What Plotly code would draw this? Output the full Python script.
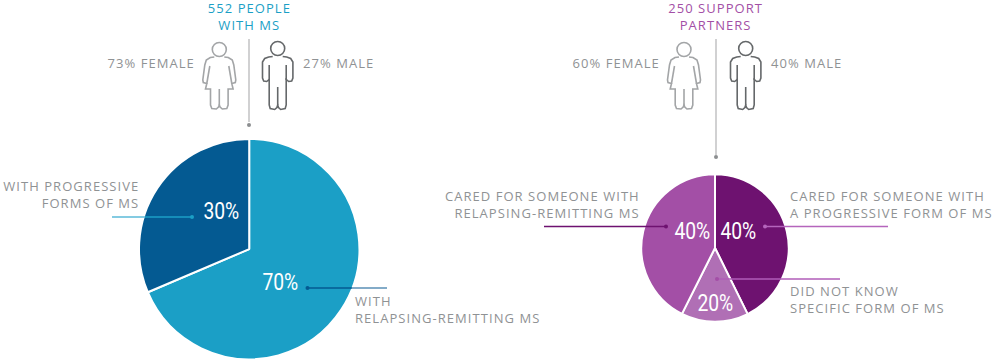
import plotly.graph_objects as go

W, H = 995, 362

ms_forms = ["With relapsing-remitting MS", "With progressive forms of MS"]
ms_printed = [70, 30]
ms_shares = [68.6, 31.4]
ms_colors = ["#1B9FC6", "#045A92"]

sp_forms = ["Progressive form of MS", "Did not know specific form", "Relapsing-remitting MS"]
sp_printed = [40, 20, 40]
sp_shares = [42.7, 14.7, 42.6]
sp_colors = ["#6E1270", "#B06FB5", "#A34FA6"]

TEXT = "#8F9294"
FONT = "Open Sans"
PCT_FONT = "Roboto"
TXT = 13


def px(x):
    return x / W


def py(y):
    return 1 - y / H


def pie(values, colors, names, cx, cy, r):
    return go.Pie(
        values=values, labels=names, sort=False, direction="clockwise", rotation=0,
        marker=dict(colors=colors, line=dict(color="white", width=2)),
        textinfo="none", hoverinfo="label", showlegend=False,
        domain=dict(x=[px(cx - r), px(cx + r)], y=[py(cy + r), py(cy - r)]),
    )


fig = go.Figure([
    pie(ms_shares, ms_colors, ms_forms, 249.2, 249.1, 110.2),
    pie(sp_shares, sp_colors, sp_forms, 715, 248, 73.7),
])

shapes = []
annotations = []


def line(x0, y0, x1, y1, color, width=1.3):
    shapes.append(dict(type="line", xref="paper", yref="paper",
                       x0=px(x0), y0=py(y0), x1=px(x1), y1=py(y1),
                       line=dict(color=color, width=width), layer="above"))


def dot(x, y, r, color):
    shapes.append(dict(type="circle", xref="paper", yref="paper",
                       x0=px(x - r), y0=py(y - r), x1=px(x + r), y1=py(y + r),
                       fillcolor=color, line=dict(width=0), layer="above"))


def text(s, x, y, anchor="left", color=TEXT, size=TXT, family=FONT):
    annotations.append(dict(text=s, x=px(x), y=py(y), xref="paper", yref="paper",
                            xanchor=anchor, yanchor="middle", align=anchor, showarrow=False,
                            borderpad=0, font=dict(family=family, size=size, color=color)))


def poly(points, color, close=False, width=1.6):
    d = "M" + " L".join(f"{px(x):.5f},{py(y):.5f}" for x, y in points) + (" Z" if close else "")
    shapes.append(dict(type="path", xref="paper", yref="paper", path=d,
                       line=dict(color=color, width=width), layer="above"))


FEMALE_BODY = [(-5, 57), (-9, 57.5), (-13, 60), (-14.5, 65), (-16.5, 80), (-16, 82.5), (-12.5, 83.5),
               (-13.8, 89), (-8.8, 89), (-8.8, 105), (-7.5, 108.5), (-3, 109), (-0.8, 107), (0, 105),
               (0.8, 107), (3, 109), (7.5, 108.5), (8.8, 105), (8.8, 89), (13.8, 89), (12.5, 83.5),
               (16, 82.5), (16.5, 80), (14.5, 65), (13, 60), (9, 57.5), (5, 57)]
MALE_BODY = [(-5, 56.5), (-9, 57), (-13, 58.5), (-15.2, 62), (-15.2, 78), (-14, 81), (-11, 81.5),
             (-8.5, 79.5), (-8.5, 105), (-7.5, 108.5), (-3, 109.5), (-0.8, 107.5), (0, 105),
             (0.8, 107.5), (3, 109.5), (7.5, 108.5), (8.5, 105), (8.5, 79.5), (11, 81.5), (14, 81),
             (15.2, 78), (15.2, 62), (13, 58.5), (9, 57), (5, 56.5)]


def shifted(pts, cx):
    return [(cx + x, y) for x, y in pts]


def female(cx, color="#A3A5A7"):
    shapes.append(dict(type="circle", xref="paper", yref="paper",
                       x0=px(cx - 7), y0=py(42.5), x1=px(cx + 7), y1=py(56.5),
                       line=dict(color=color, width=1.6), layer="above"))
    poly(shifted(FEMALE_BODY, cx), color)
    poly(shifted([(-9.5, 66), (-12.5, 83.5)], cx), color)
    poly(shifted([(9.5, 66), (12.5, 83.5)], cx), color)
    poly(shifted([(0, 89), (0, 105)], cx), color)


def male(cx, color="#65686A"):
    shapes.append(dict(type="circle", xref="paper", yref="paper",
                       x0=px(cx - 7), y0=py(41.5), x1=px(cx + 7), y1=py(55.5),
                       line=dict(color=color, width=1.6), layer="above"))
    poly(shifted(MALE_BODY, cx), color, width=1.6)
    poly(shifted([(-8.5, 65), (-8.5, 80)], cx), color, width=1.6)
    poly(shifted([(8.5, 65), (8.5, 80)], cx), color, width=1.6)
    poly(shifted([(0, 87), (0, 105)], cx), color, width=1.6)


# Connector stems
line(249, 39, 249, 122, "#B8B9BA")
dot(249, 125, 2, "#8C8E90")
line(716, 39, 716, 155, "#B8B9BA")
dot(716, 157, 2, "#8C8E90")

# Person icons
female(219.3)
male(277.7)
female(684)
male(745.7)

# Leader lines
line(112, 217, 145, 217, "#5BBAD8")
line(145, 217, 192, 217, "#1B9FC6")
dot(192, 217, 2, "#1B9FC6")
line(307.5, 288, 352, 288, "#045A92")
line(352, 288, 387, 288, "#5A8FB6")
dot(307.5, 288, 2, "#045A92")
line(544, 226.5, 666, 226.5, "#6E1270")
dot(666, 226.5, 2, "#6E1270")
line(765, 226.5, 888, 226.5, "#B565BC")
dot(765, 226.5, 2, "#B565BC")
line(717, 279, 840, 279, "#B05DB8")
dot(717, 279, 2, "#A34FA6")

# Headings
text("552 PEOPLE<br>WITH MS", 249, 16.9, "center", "#1B9FC6")
text("250 SUPPORT<br>PARTNERS", 715.5, 16.9, "center", "#A34FA6")

# Gender labels
text("73% FEMALE", 195.5, 63, "right")
text("27% MALE", 301.5, 63, "left")
text("60% FEMALE", 661, 63, "right")
text("40% MALE", 770, 63, "left")

# Slice descriptions
text("WITH PROGRESSIVE<br>FORMS OF MS", 140, 194, "right")
text("WITH<br>RELAPSING-REMITTING MS", 354, 309, "left")
text("CARED FOR SOMEONE WITH<br>RELAPSING-REMITTING MS", 641, 204, "right")
text("CARED FOR SOMEONE WITH<br>A PROGRESSIVE FORM OF MS", 788.5, 204, "left")
text("DID NOT KNOW<br>SPECIFIC FORM OF MS", 788.5, 299, "left")

# Printed percentages
for value, (x, y) in zip(ms_printed, [(280, 282), (221, 212)]):
    text(f"{value}%", x, y, "center", "white", 23, PCT_FONT)
for value, (x, y) in zip(sp_printed, [(738, 231), (715, 303), (692, 231)]):
    text(f"{value}%", x, y, "center", "white", 23, PCT_FONT)

fig.update_layout(width=W, height=H, margin=dict(l=0, r=0, t=0, b=0),
                  paper_bgcolor="white", plot_bgcolor="white", showlegend=False,
                  shapes=shapes, annotations=annotations)

# Page margin off; tracked capitals on labels and condensed percentages, as in the reference
POST = """
document.body.style.margin = '0';
document.querySelectorAll('.annotation-text').forEach(function (t) {
  if (/^\\d+%$/.test(t.textContent)) {
    var b = t.getBBox(), c = b.x + b.width / 2;
    t.setAttribute('transform', 'translate(' + c + ' 0) scale(0.84 1) translate(' + (-c) + ' 0)');
  } else {
    t.style.letterSpacing = '1.05px';
  }
});
"""
fig.write_html("out.html", config={"displayModeBar": False}, default_width=W, default_height=H,
               post_script=POST)
